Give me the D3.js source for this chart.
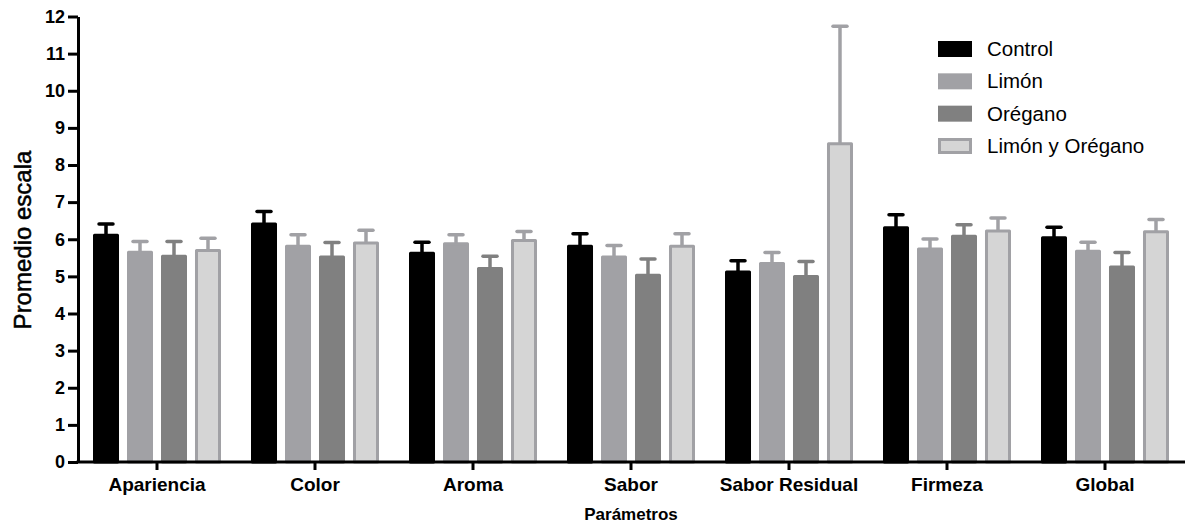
<!DOCTYPE html>
<html>
<head>
<meta charset="utf-8">
<script src="https://cdn.jsdelivr.net/npm/d3@7"></script>
<style>
  html, body { margin: 0; padding: 0; background: #fff; }
  svg { display: block; font-family: Arial, "Liberation Sans", sans-serif; }
</style>
</head>
<body>
<svg id="chart" width="1200" height="526"></svg>
<script>
// Sensory panel scores per parameter (mean and standard error)
const categories = ["Apariencia", "Color", "Aroma", "Sabor", "Sabor Residual", "Firmeza", "Global"];
const seriesNames = ["Control", "Limón", "Orégano", "Limón y Orégano"];

const controlMean  = [6.15, 6.45, 5.66, 5.85, 5.16, 6.35, 6.08];
const controlErr   = [0.26, 0.30, 0.26, 0.30, 0.26, 0.31, 0.24];
const limonMean    = [5.69, 5.85, 5.92, 5.56, 5.39, 5.78, 5.72];
const limonErr     = [0.25, 0.27, 0.20, 0.27, 0.25, 0.23, 0.20];
const oreganoMean  = [5.58, 5.56, 5.25, 5.07, 5.04, 6.12, 5.29];
const oreganoErr   = [0.36, 0.35, 0.29, 0.40, 0.36, 0.27, 0.35];
const mixMean      = [5.74, 5.94, 6.01, 5.85, 8.61, 6.26, 6.24];
const mixErr       = [0.29, 0.30, 0.20, 0.30, 3.13, 0.31, 0.29];

const yTicks = [0, 1, 2, 3, 4, 5, 6, 7, 8, 9, 10, 11, 12];

const means = [controlMean, limonMean, oreganoMean, mixMean];
const errs  = [controlErr, limonErr, oreganoErr, mixErr];

const fills   = ["#000000", "#a1a1a5", "#808080", "#d5d5d5"];
const strokes = ["#000000", "#a1a1a5", "#808080", "#a1a1a5"];

const svg = d3.select("#chart");

const x0 = d3.scaleBand().domain(categories).range([78, 1184]).paddingInner(0).paddingOuter(0);
const x1 = d3.scaleBand().domain(seriesNames).range([-64, 64]).paddingInner(0.235);
const y  = d3.scaleLinear().domain([0, 12]).range([462, 16.5]);

const rows = [];
categories.forEach((c, i) => {
  seriesNames.forEach((s, j) => {
    rows.push({ cat: c, series: s, j, mean: means[j][i], err: errs[j][i] });
  });
});

const bw = x1.bandwidth();
const sw = 3;

const g = svg.append("g");

// bars (outer edge spans the full band width, top at the mean)
g.selectAll("rect.bar").data(rows).join("rect")
  .attr("class", "bar")
  .attr("x", d => x0(d.cat) + x0.bandwidth() / 2 + x1(d.series) + sw / 2)
  .attr("y", d => y(d.mean) + sw / 2)
  .attr("width", bw - sw)
  .attr("height", d => y(0) - y(d.mean) - sw / 2)
  .attr("fill", d => fills[d.j])
  .attr("stroke", d => strokes[d.j])
  .attr("stroke-width", sw)
  .attr("stroke-linejoin", "round");

// error bars (upper whisker only)
const cx = d => x0(d.cat) + x0.bandwidth() / 2 + x1(d.series) + bw / 2;
g.selectAll("line.err").data(rows).join("line")
  .attr("class", "err")
  .attr("x1", cx).attr("x2", cx)
  .attr("y1", d => y(d.mean) + 1)
  .attr("y2", d => y(d.mean + d.err))
  .attr("stroke", d => strokes[d.j])
  .attr("stroke-width", 3.5);
g.selectAll("line.cap").data(rows).join("line")
  .attr("class", "cap")
  .attr("x1", d => cx(d) - 7).attr("x2", d => cx(d) + 7)
  .attr("y1", d => y(d.mean + d.err))
  .attr("y2", d => y(d.mean + d.err))
  .attr("stroke", d => strokes[d.j])
  .attr("stroke-width", 3.5)
  .attr("stroke-linecap", "round");

// y axis
const yAxis = svg.append("g")
  .attr("transform", "translate(78,0)")
  .call(d3.axisLeft(y).tickValues(yTicks).tickFormat(d3.format("d")).tickSizeInner(10).tickSizeOuter(0).tickPadding(3));
yAxis.select(".domain").attr("stroke", "#000").attr("stroke-width", 3);
yAxis.selectAll(".tick line").attr("stroke", "#000").attr("stroke-width", 3);
yAxis.selectAll(".tick text")
  .attr("font-size", 18).attr("font-weight", "bold").attr("fill", "#000")
  .attr("font-family", "Arial, 'Liberation Sans', sans-serif");

// x axis
const xAxis = svg.append("g")
  .attr("transform", "translate(0,462)")
  .call(d3.axisBottom(x0).tickSizeInner(8).tickSizeOuter(0).tickPadding(8));
xAxis.select(".domain").attr("stroke", "#000").attr("stroke-width", 3)
  .attr("d", "M76.5,0H1185");
xAxis.selectAll(".tick line").attr("stroke", "#000").attr("stroke-width", 3);
xAxis.selectAll(".tick text")
  .attr("font-size", 19).attr("font-weight", "bold").attr("fill", "#000")
  .attr("font-family", "Arial, 'Liberation Sans', sans-serif");

// axis titles
svg.append("text")
  .attr("transform", "translate(31,240) rotate(-90)")
  .attr("text-anchor", "middle")
  .attr("font-size", 24)
  .attr("fill", "#000")
  .attr("stroke", "#000")
  .attr("stroke-width", 0.5)
  .text("Promedio escala");

svg.append("text")
  .attr("x", 631).attr("y", 520)
  .attr("text-anchor", "middle")
  .attr("font-size", 17)
  .attr("font-weight", "bold")
  .attr("fill", "#000")
  .text("Parámetros");

// legend
const legend = svg.append("g");
const ly = d3.scalePoint().domain(seriesNames).range([49, 146]);
seriesNames.forEach((s, j) => {
  legend.append("rect")
    .attr("x", 938 + 1.5).attr("y", ly(s) - 8 + 1.5)
    .attr("width", 34 - 3).attr("height", 16 - 3)
    .attr("fill", fills[j]).attr("stroke", strokes[j]).attr("stroke-width", 3);
  legend.append("text")
    .attr("x", 987).attr("y", ly(s) + 7)
    .attr("font-size", 20.5).attr("fill", "#000")
    .text(s);
});
</script>
</body>
</html>
